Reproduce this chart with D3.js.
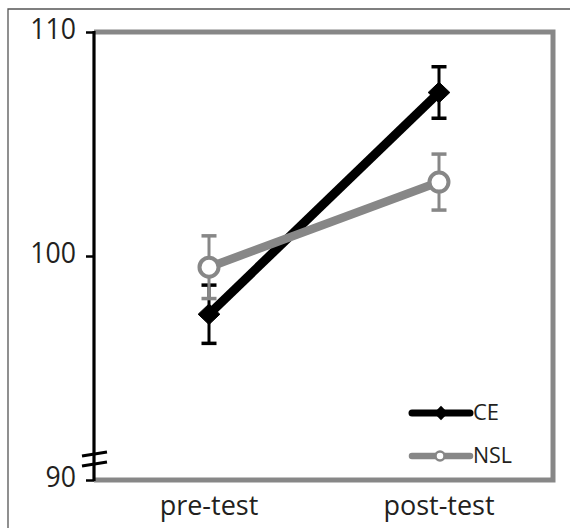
<!DOCTYPE html>
<html><head><meta charset="utf-8">
<script src="https://cdn.jsdelivr.net/npm/d3@7"></script>
<style>body{margin:0;background:#fff}svg{display:block}text{font-family:"Open Sans",sans-serif;fill:#231f20}</style>
</head><body>
<script>
const categories = ["pre-test", "post-test"];
const seriesNames = ["CE", "NSL"];
const ceValues = [97.4, 107.3];
const ceErrors = [1.3, 1.15];
const nslValues = [99.5, 103.3];
const nslErrors = [1.4, 1.25];
const yTicks = [90, 100, 110];

(function () {
const W = 570, H = 528;
const svg = d3.select("body").append("svg").attr("width", W).attr("height", H);

const pLeft = 94, pRight = 553, pTop = 32, pBottom = 480;
const x = d3.scalePoint().domain(categories).range([209, 439]);
const y = d3.scaleLinear().domain([90, 110]).range([pBottom, pTop]);

// outer frame (top and left edges)
svg.append("path").attr("d", `M8,${H} V9 H${W}`).attr("fill", "none").attr("stroke", "#555").attr("stroke-width", 1.3);

// plot frame (gray top/right/bottom)
svg.append("path").attr("d", `M${pLeft},${pTop} H${pRight} V${pBottom} H${pLeft}`)
  .attr("fill", "none").attr("stroke", "#878787").attr("stroke-width", 5).attr("stroke-linejoin", "miter");

// y axis
const yAxis = d3.axisLeft(y).tickValues(yTicks).tickSize(8).tickPadding(11);
const gy = svg.append("g").attr("transform", `translate(${pLeft},0)`).call(yAxis);
gy.select(".domain").remove();
gy.selectAll(".tick line").attr("stroke", "#000").attr("stroke-width", 2.5);
gy.selectAll(".tick text").attr("font-size", 28).attr("dy", "0.22em").attr("fill", "#231f20")
  .attr("transform", "scale(0.95,1.05)").style("font-family", "'Open Sans',sans-serif");
svg.append("line").attr("x1", pLeft).attr("x2", pLeft).attr("y1", pTop - 1).attr("y2", pBottom + 1)
  .attr("stroke", "#000").attr("stroke-width", 3.2);

// axis break marks
[0, 10].forEach(o => {
  svg.append("line").attr("x1", 82).attr("y1", pBottom - 24 + o).attr("x2", 107).attr("y2", pBottom - 28 + o)
    .attr("stroke", "#000").attr("stroke-width", 3);
});

// x labels
svg.selectAll(".xl").data(categories).enter().append("text")
  .attr("x", d => x(d)).attr("y", 515).attr("text-anchor", "middle").attr("font-size", 27).text(d => d);

const series = [
  {name: seriesNames[0], vals: ceValues, errs: ceErrors, color: "#000", lw: 9, marker: "diamond"},
  {name: seriesNames[1], vals: nslValues, errs: nslErrors, color: "#878787", lw: 8.5, marker: "circle"}
];

const line = d3.line().x((d, i) => x(categories[i])).y(d => y(d));

series.forEach(s => {
  svg.append("path").datum(s.vals).attr("d", line).attr("fill", "none")
    .attr("stroke", s.color).attr("stroke-width", s.lw);
});

series.forEach(s => {
  const g = svg.append("g");
  s.vals.forEach((v, i) => {
    const cx = x(categories[i]);
    const y1 = y(v + s.errs[i]), y2 = y(v - s.errs[i]);
    g.append("line").attr("x1", cx).attr("x2", cx).attr("y1", y1).attr("y2", y2).attr("stroke", s.color).attr("stroke-width", 3);
    [y1, y2].forEach(yy => g.append("line").attr("x1", cx - 7.5).attr("x2", cx + 7.5).attr("y1", yy).attr("y2", yy)
      .attr("stroke", s.color).attr("stroke-width", 3.5));
    if (s.marker === "diamond") {
      g.append("path").attr("d", d3.symbol(d3.symbolDiamond2, 300)()).attr("transform", `translate(${cx},${y(v)}) scale(1,0.95)`)
        .attr("fill", "#000").attr("stroke", "#000").attr("stroke-width", 1).attr("stroke-linejoin", "round");
    } else {
      g.append("circle").attr("cx", cx).attr("cy", y(v)).attr("r", 9.5).attr("fill", "#fff")
        .attr("stroke", s.color).attr("stroke-width", 4);
    }
  });
});

// legend
const legY = [413, 456];
series.forEach((s, i) => {
  const g = svg.append("g");
  g.append("line").attr("x1", 412).attr("x2", 470).attr("y1", legY[i]).attr("y2", legY[i])
    .attr("stroke", s.color).attr("stroke-width", s.lw - 2).attr("stroke-linecap", "round");
  if (s.marker === "diamond") {
    g.append("path").attr("d", d3.symbol(d3.symbolDiamond2, 130)()).attr("transform", `translate(441,${legY[i]})`).attr("fill", "#000");
  } else {
    g.append("circle").attr("cx", 440).attr("cy", legY[i]).attr("r", 4.5).attr("fill", "#fff").attr("stroke", s.color).attr("stroke-width", 2.5);
  }
  g.append("text").attr("x", 473).attr("y", legY[i] + 7).attr("font-size", 21)
    .attr("textLength", i === 0 ? 26 : 39).attr("lengthAdjust", "spacingAndGlyphs").text(s.name);
});
})();
</script>
</body></html>
